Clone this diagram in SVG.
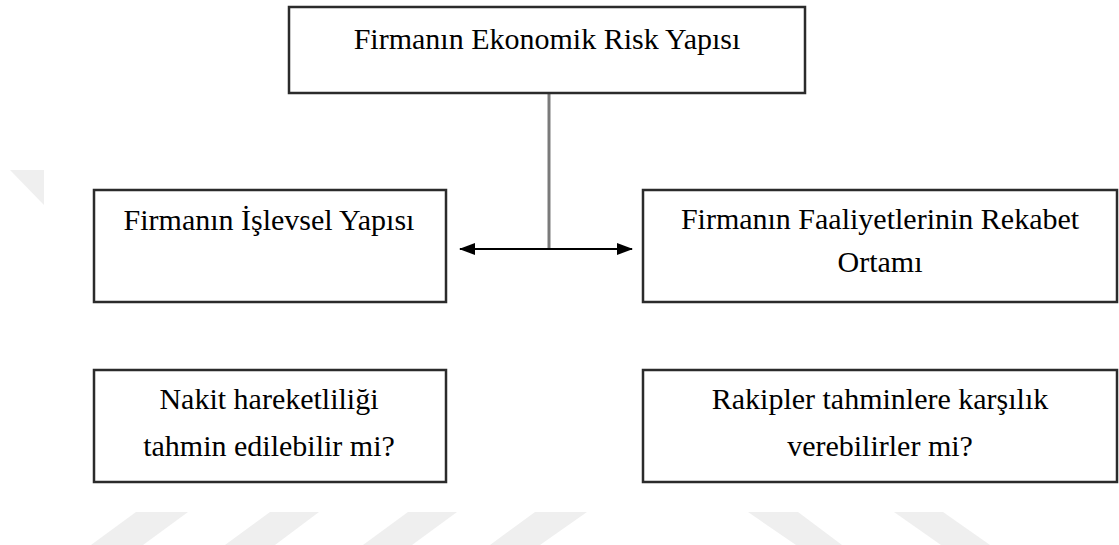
<svg xmlns="http://www.w3.org/2000/svg" width="1119" height="545" viewBox="0 0 1119 545">
  <style>
    .box { fill: #ffffff; stroke: #2b2b2b; stroke-width: 2.5; }
    .lbl { font-family: "Liberation Serif", "Times New Roman", serif; font-size: 30px; fill: #000000; text-anchor: middle; }
    .wm { fill: #efefef; }
  </style>
  <defs>
    <marker id="ah" viewBox="0 0 16 12" refX="15" refY="6" markerWidth="16" markerHeight="12" markerUnits="userSpaceOnUse" orient="auto-start-reverse">
      <path d="M0,0 L16,6 L0,12 Z" fill="#000000"/>
    </marker>
  </defs>
  <rect width="1119" height="545" fill="#ffffff"/>
  <g id="watermark">
    <polygon class="wm" points="10,170 44,170 44,205"/>
    <polygon class="wm" points="136,512 188,512 143,545 91,545"/>
    <polygon class="wm" points="270,512 319,512 275,545 225,545"/>
    <polygon class="wm" points="408,512 457,512 412,545 363,545"/>
    <polygon class="wm" points="535,512 587,512 540,545 490,545"/>
    <polygon class="wm" points="748,512 798,512 842,545 796,545"/>
    <polygon class="wm" points="894,512 943,512 990,545 941,545"/>
  </g>
  <g id="connectors">
    <line x1="549" y1="93" x2="549" y2="249" stroke="#7a7a7a" stroke-width="3"/>
    <line x1="460" y1="249" x2="632" y2="249" stroke="#000000" stroke-width="2" marker-start="url(#ah)" marker-end="url(#ah)"/>
  </g>
  <g id="node-top">
    <rect class="box" x="289" y="7" width="516" height="86"/>
    <text class="lbl" x="547" y="49">Firmanın Ekonomik Risk Yapısı</text>
  </g>
  <g id="node-islevsel">
    <rect class="box" x="94" y="190" width="352" height="112"/>
    <text class="lbl" x="269" y="230">Firmanın İşlevsel Yapısı</text>
  </g>
  <g id="node-rekabet">
    <rect class="box" x="643" y="190" width="474" height="112"/>
    <text class="lbl" x="880" y="229">Firmanın Faaliyetlerinin Rekabet</text>
    <text class="lbl" x="880" y="272">Ortamı</text>
  </g>
  <g id="node-nakit">
    <rect class="box" x="94" y="370" width="352" height="112"/>
    <text class="lbl" x="269" y="409">Nakit hareketliliği</text>
    <text class="lbl" x="269" y="456">tahmin edilebilir mi?</text>
  </g>
  <g id="node-rakipler">
    <rect class="box" x="643" y="370" width="474" height="112"/>
    <text class="lbl" x="880" y="409">Rakipler tahminlere karşılık</text>
    <text class="lbl" x="880" y="456">verebilirler mi?</text>
  </g>
</svg>
